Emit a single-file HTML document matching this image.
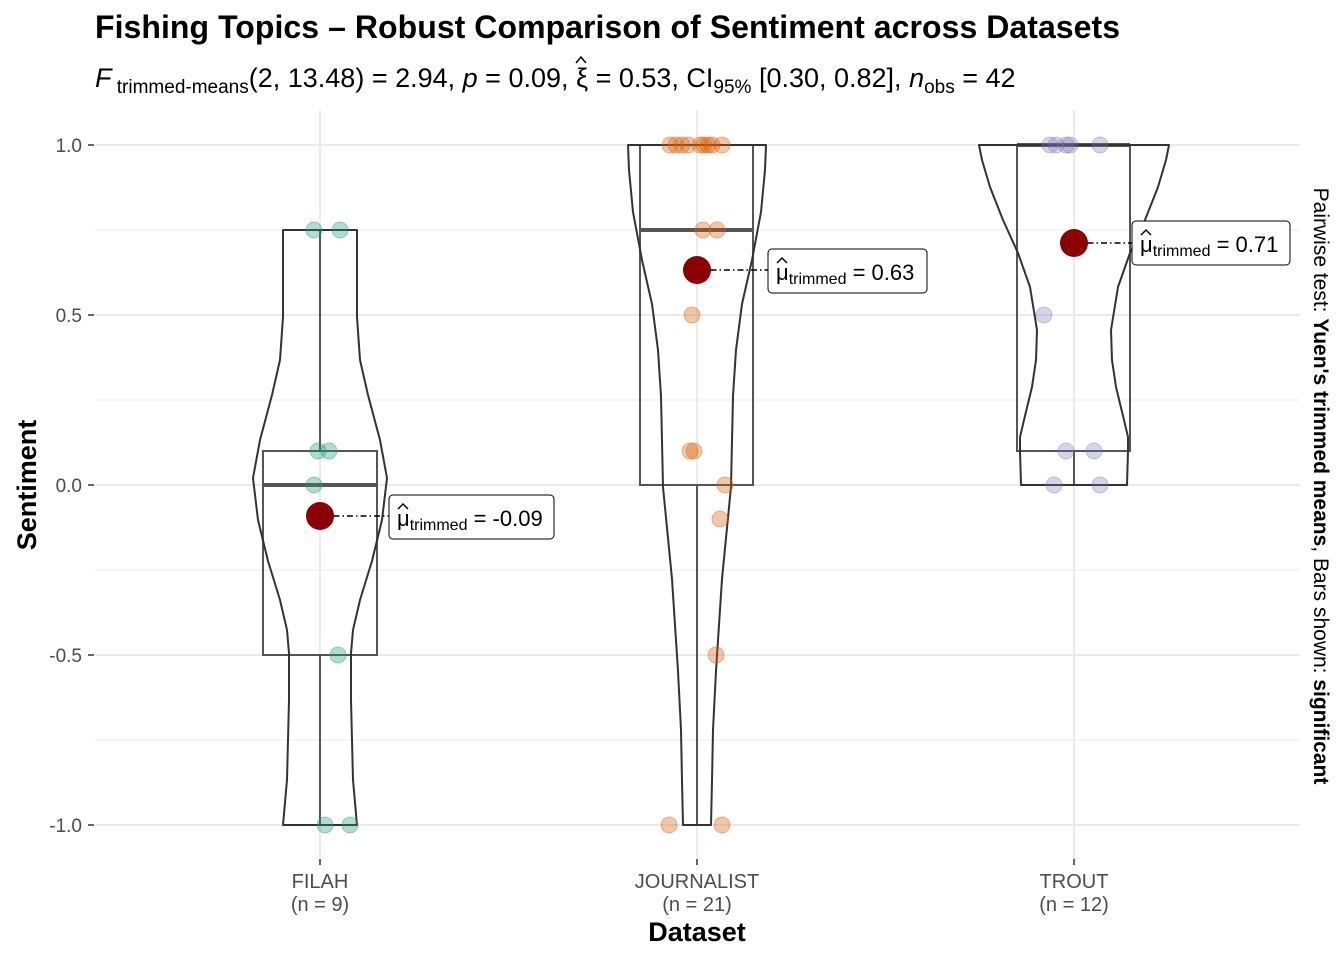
<!DOCTYPE html>
<html><head><meta charset="utf-8"><style>
html,body{margin:0;padding:0;background:#fff;}
svg{display:block;font-family:"Liberation Sans",Arial,sans-serif;}
</style></head><body>
<svg width="1344" height="960" viewBox="0 0 1344 960" xmlns="http://www.w3.org/2000/svg">
<rect width="1344" height="960" fill="#fff"/>
<g stroke="#ebebeb" stroke-width="1">
<line x1="95" x2="1300" y1="230" y2="230"/><line x1="95" x2="1300" y1="400" y2="400"/>
<line x1="95" x2="1300" y1="570" y2="570"/><line x1="95" x2="1300" y1="740" y2="740"/>
</g>
<g stroke="#ebebeb" stroke-width="2">
<line x1="95" x2="1300" y1="145" y2="145"/><line x1="95" x2="1300" y1="315" y2="315"/>
<line x1="95" x2="1300" y1="485" y2="485"/><line x1="95" x2="1300" y1="655" y2="655"/>
<line x1="95" x2="1300" y1="825" y2="825"/>
<line x1="320" x2="320" y1="110" y2="858"/><line x1="697" x2="697" y1="110" y2="858"/><line x1="1074" x2="1074" y1="110" y2="858"/>
</g>
<g stroke="#333" stroke-width="1.5">
<line x1="88" x2="94" y1="145" y2="145"/><line x1="88" x2="94" y1="315" y2="315"/><line x1="88" x2="94" y1="485" y2="485"/><line x1="88" x2="94" y1="655" y2="655"/><line x1="88" x2="94" y1="825" y2="825"/>
<line x1="320" x2="320" y1="859" y2="865"/><line x1="697" x2="697" y1="859" y2="865"/><line x1="1074" x2="1074" y1="859" y2="865"/>
</g>
<g font-size="19" fill="#4d4d4d" text-anchor="end">
<text x="82" y="152">1.0</text><text x="82" y="322">0.5</text><text x="82" y="492">0.0</text><text x="82" y="662">-0.5</text><text x="82" y="832">-1.0</text>
</g>
<g font-size="20" fill="#4d4d4d" text-anchor="middle">
<text x="320" y="888">FILAH</text><text x="320" y="911">(n = 9)</text>
<text x="697" y="888">JOURNALIST</text><text x="697" y="911">(n = 21)</text>
<text x="1074" y="888">TROUT</text><text x="1074" y="911">(n = 12)</text>
</g>
<g fill="none" stroke="#555" stroke-width="2">
<rect x="263" y="451" width="114" height="204"/>
<line x1="320" x2="320" y1="230" y2="451"/><line x1="320" x2="320" y1="655" y2="825"/>
<rect x="640" y="145" width="113" height="340"/>
<line x1="697" x2="697" y1="485" y2="825"/>
<rect x="1017" y="145" width="113" height="306"/>
<line x1="1074" x2="1074" y1="451" y2="485"/>
</g>
<g stroke="#555" stroke-width="4">
<line x1="263" x2="377" y1="485" y2="485"/><line x1="640" x2="753" y1="230" y2="230"/><line x1="1017" x2="1130" y1="145" y2="145"/>
</g>
<g fill="none" stroke="#333" stroke-width="2" stroke-linejoin="round">
<path d="M283,230 L357,230 L357,317 L360,360 L368,395 L380,440 L387,478 L382,520 L372,561 L360,600 L353,630 L351,653 L351,700 L353,780 L357,825 L283,825 L287,780 L289,700 L289,653 L287,630 L280,600 L268,561 L258,520 L253,478 L260,440 L272,395 L280,360 L283,317 Z"/>
<path d="M628,145 L766,145 L765,170 L761,212 L752,260 L742,304 L736,350 L733,396 L731,487 L722,579 L716,671 L713,730 L712,781 L711,825 L683,825 L682,781 L681,730 L678,671 L672,579 L663,487 L661,396 L658,350 L652,304 L642,260 L633,212 L629,170 Z"/>
<path d="M979,145 L1169,145 L1166,160 L1158,187 L1145,220 L1130,253 L1118,287 L1111,330 L1112,360 L1116,387 L1124,420 L1128,437 L1128,451 L1127,485 L1021,485 L1020,451 L1020,437 L1024,420 L1032,387 L1036,360 L1037,330 L1030,287 L1018,253 L1003,220 L990,187 L982,160 Z"/>
</g>
<g fill="#1b9e77" fill-opacity="0.35" stroke="#1b9e77" stroke-opacity="0.4">
<circle cx="314" cy="230" r="8"/><circle cx="340" cy="230" r="8"/><circle cx="318" cy="451" r="8"/><circle cx="329" cy="451" r="8"/><circle cx="314" cy="485" r="8"/><circle cx="338" cy="655" r="8"/><circle cx="325" cy="825" r="8"/><circle cx="350" cy="825" r="8"/>
</g>
<g fill="#d95f02" fill-opacity="0.35" stroke="#d95f02" stroke-opacity="0.4">
<circle cx="670" cy="145" r="8"/><circle cx="676" cy="145" r="8"/><circle cx="682" cy="145" r="8"/><circle cx="688" cy="145" r="8"/><circle cx="700" cy="145" r="8"/><circle cx="704" cy="145" r="8"/><circle cx="708" cy="145" r="8"/><circle cx="712" cy="145" r="8"/><circle cx="722" cy="145" r="8"/>
<circle cx="703" cy="230" r="8"/><circle cx="717" cy="230" r="8"/><circle cx="692" cy="315" r="8"/><circle cx="690" cy="451" r="8"/><circle cx="694" cy="451" r="8"/>
<circle cx="725" cy="485" r="8"/><circle cx="720" cy="519" r="8"/><circle cx="716" cy="655" r="8"/><circle cx="669" cy="825" r="8"/><circle cx="722" cy="825" r="8"/>
</g>
<g fill="#7570b3" fill-opacity="0.3" stroke="#7570b3" stroke-opacity="0.35">
<circle cx="1050" cy="145" r="8"/><circle cx="1056" cy="145" r="8"/><circle cx="1066" cy="145" r="8"/><circle cx="1070" cy="145" r="8"/><circle cx="1100" cy="145" r="8"/>
<circle cx="1044" cy="315" r="8"/><circle cx="1066" cy="451" r="8"/><circle cx="1094" cy="451" r="8"/><circle cx="1054" cy="485" r="8"/><circle cx="1100" cy="485" r="8"/>
</g>
<g stroke="#000" stroke-width="1.5" stroke-dasharray="6,3,1.5,3">
<line x1="320" x2="389" y1="516" y2="516"/><line x1="697" x2="768" y1="270" y2="270"/><line x1="1074" x2="1132" y1="243" y2="243"/>
</g>
<g fill="#8b0000">
<circle cx="320" cy="516" r="14"/><circle cx="697" cy="270" r="14"/><circle cx="1074" cy="243" r="14"/>
</g>
<g fill="#fff" stroke="#000" stroke-width="1">
<rect x="389" y="495" width="165" height="44" rx="4"/>
<rect x="768" y="249" width="159" height="44" rx="4"/>
<rect x="1132" y="221" width="158" height="44" rx="4"/>
</g>
<g fill="none" stroke="#000" stroke-width="1.5">
<polyline points="398,509 403,504 408,509"/><polyline points="777,263 782,258 787,263"/><polyline points="1141,235 1146,230 1151,235"/>
<polyline points="576,63 581,57 586,63"/>
</g>
<g font-size="22" fill="#000">
<text x="397" y="526">μ<tspan font-size="16" dy="4">trimmed</tspan><tspan dy="-4"> = -0.09</tspan></text>
<text x="776" y="280">μ<tspan font-size="16" dy="4">trimmed</tspan><tspan dy="-4"> = 0.63</tspan></text>
<text x="1140" y="252">μ<tspan font-size="16" dy="4">trimmed</tspan><tspan dy="-4"> = 0.71</tspan></text>
</g>
<text x="95" y="38" font-size="32" font-weight="bold" fill="#000" textLength="1025">Fishing Topics – Robust Comparison of Sentiment across Datasets</text>
<text x="95" y="87" font-size="27" fill="#000"><tspan font-style="italic">F</tspan><tspan font-size="19" dy="6"> trimmed-means</tspan><tspan dy="-6">(2, 13.48) = 2.94, </tspan><tspan font-style="italic">p</tspan> = 0.09, ξ = 0.53, CI<tspan font-size="19" dy="6">95%</tspan><tspan dy="-6"> [0.30, 0.82], </tspan><tspan font-style="italic">n</tspan><tspan font-size="19" dy="6">obs</tspan><tspan dy="-6"> = 42</tspan></text>
<text x="697" y="941" font-size="27" font-weight="bold" text-anchor="middle" fill="#000">Dataset</text>
<text transform="translate(36,485) rotate(-90)" font-size="27" font-weight="bold" text-anchor="middle" fill="#000">Sentiment</text>
<text transform="translate(1314,486) rotate(90)" font-size="21" text-anchor="middle" fill="#000">Pairwise test: <tspan font-weight="bold">Yuen's trimmed means</tspan>, Bars shown: <tspan font-weight="bold">significant</tspan></text>
</svg>
</body></html>
